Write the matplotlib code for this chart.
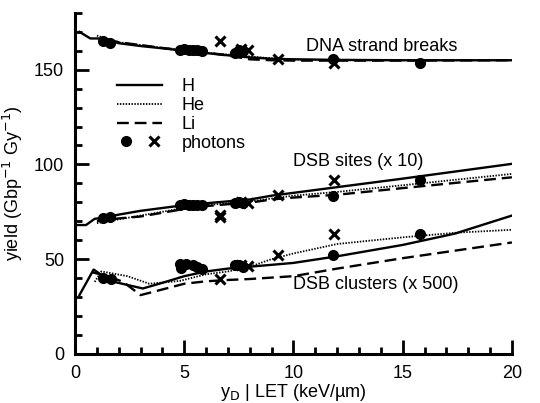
import matplotlib.pyplot as plt
from matplotlib.lines import Line2D
from matplotlib.legend_handler import HandlerTuple
from matplotlib.ticker import MultipleLocator

plt.rcParams['font.family'] = ['Liberation Sans', 'DejaVu Sans']

# DNA strand breaks
ssb_h_x = [0.2, 0.7, 1.2, 2, 3, 4, 5, 6, 7, 7.5, 8, 9, 10, 12, 15, 20]
ssb_h_y = [170, 166.5, 166.5, 164, 162.5, 161.3, 160, 158.8, 157.6, 157.0, 156.5, 155.8, 155.5, 155.2, 155, 155]
ssb_he_x = [1.0, 2, 3, 4, 5, 6, 7, 8, 9, 10, 12, 15, 20]
ssb_he_y = [168, 164.5, 163, 161.5, 160.3, 159, 158, 157, 156, 155.5, 155, 155, 155]
ssb_li_x = [1.5, 2, 3, 4, 5, 6, 7, 7.5, 8, 9, 10, 12, 15, 20]
ssb_li_y = [166, 164.5, 163, 161.5, 160.2, 159, 157.5, 156.5, 155.5, 155.0, 154.8, 154.8, 154.8, 155]
ssb_dot_x = [1.3, 1.6, 4.8, 5.0, 5.2, 5.4, 5.6, 5.8, 7.3, 7.5, 7.7, 11.8, 15.8]
ssb_dot_y = [165, 164.3, 160.5, 160.8, 160.5, 160.3, 160.5, 160, 159, 160.5, 160, 155.8, 153.5]
ssb_x_x = [6.65, 7.6, 7.9, 9.3, 11.85]
ssb_x_y = [165, 161, 160.5, 155.5, 153.5]

# DSB sites (x 10)
site_h_x = [0.1, 0.5, 0.9, 1.3, 2, 3, 4, 5, 6, 7, 8, 9, 10, 12, 15, 20]
site_h_y = [68, 68, 71.3, 71.8, 73.5, 75.5, 77, 78.5, 79.5, 80.5, 81.5, 83.5, 85, 88, 92.5, 100.3]
site_he_x = [1.0, 2, 3, 4, 5, 6, 7, 8, 9, 10, 12, 15, 20]
site_he_y = [69, 71, 73, 75, 77, 78.5, 79.5, 80.5, 82, 83.5, 85.5, 89, 95]
site_li_x = [1.0, 2, 3, 4, 5, 6, 7, 8, 9, 10, 12, 15, 20]
site_li_y = [70, 71.5, 72.5, 74.5, 76.5, 78, 79, 79.8, 81.5, 82.5, 84, 87.5, 93.2]
site_dot_x = [1.3, 1.6, 4.8, 5.0, 5.2, 5.4, 5.6, 5.8, 7.3, 7.5, 7.7, 11.8, 15.8]
site_dot_y = [71.5, 72.5, 78.5, 79, 78.5, 78.8, 78.5, 78.5, 79.5, 80, 79.5, 83.5, 92]
site_x_x = [6.65, 6.65, 7.6, 7.9, 9.3, 11.85]
site_x_y = [72, 73.5, 80, 79.5, 84, 92]

# DSB clusters (x 500)
clus_h_x = [0.2, 0.85, 1.6, 3.1, 4, 5, 6, 7, 8, 10, 12, 15, 17.4, 20]
clus_h_y = [31, 44.5, 38.5, 34.5, 37.5, 41, 43.5, 45, 46, 48, 51.5, 57.5, 63.5, 73]
clus_he_x = [0.9, 1.2, 2.4, 3.4, 4.8, 6, 7, 8, 9, 10, 12, 15, 17.5, 20]
clus_he_y = [38, 43.5, 41, 37, 38.5, 42, 43.5, 46, 50, 53, 58, 61.5, 64, 65.5]
clus_li_x = [0.8, 1.5, 2.2, 3.0, 4, 5, 6, 7, 8, 10, 12, 15, 20]
clus_li_y = [43, 41, 38, 31, 34, 37, 38.3, 39, 39.5, 41, 45, 50.5, 58.8]
clus_dot_x = [1.3, 1.65, 4.8, 4.85, 5.1, 5.4, 5.6, 5.8, 7.3, 7.5, 7.7, 11.8, 15.8]
clus_dot_y = [40, 39.5, 47.5, 45.5, 47.5, 47, 46, 45, 47, 47, 46, 52, 63.5]
clus_x_x = [6.65, 7.6, 7.9, 9.3, 11.85]
clus_x_y = [39.5, 47, 46.5, 52, 63.5]

fig = plt.figure(figsize=(5.4, 4.03), dpi=100)
ax = fig.add_axes([0.139, 0.122, 0.809, 0.846])

lw = 1.7
dash = (0, (5, 2.5))
dot = (0, (0.8, 0.8))
for xs, ys, ls in [(ssb_h_x, ssb_h_y, '-'), (ssb_he_x, ssb_he_y, dot), (ssb_li_x, ssb_li_y, dash),
                   (site_h_x, site_h_y, '-'), (site_he_x, site_he_y, dot), (site_li_x, site_li_y, dash),
                   (clus_h_x, clus_h_y, '-'), (clus_he_x, clus_he_y, dot), (clus_li_x, clus_li_y, dash)]:
    ax.plot(xs, ys, color='black', linestyle=ls, lw=lw if ls != dot else 1.3)

ms = 7
for xs, ys in [(ssb_dot_x, ssb_dot_y), (site_dot_x, site_dot_y), (clus_dot_x, clus_dot_y)]:
    ax.plot(xs, ys, 'o', color='black', ms=ms, ls='none')
for xs, ys in [(ssb_x_x, ssb_x_y), (site_x_x, site_x_y), (clus_x_x, clus_x_y)]:
    ax.plot(xs, ys, 'x', color='black', ms=ms, mew=2.2, ls='none')

fs = 13
ax.text(10.55, 162.5, 'DNA strand breaks', fontsize=fs, va='center')
ax.text(10.0, 101.5, 'DSB sites (x 10)', fontsize=fs, va='center')
ax.text(10.0, 36.5, 'DSB clusters (x 500)', fontsize=fs, va='center')

# legend
h_line = Line2D([], [], color='black', lw=lw)
he_line = Line2D([], [], color='black', lw=1.3, linestyle=dot)
li_line = Line2D([], [], color='black', lw=lw, linestyle=dash)
ph_dot = Line2D([], [], marker='o', color='black', ms=ms, ls='none')
ph_x = Line2D([], [], marker='x', color='black', ms=ms, mew=2.2, ls='none')
ax.legend([h_line, he_line, li_line, (ph_dot, ph_x)], ['H', 'He', 'Li', 'photons'],
          handler_map={tuple: HandlerTuple(ndivide=None, pad=0.6)},
          loc='upper left', bbox_to_anchor=(0.096, 0.808), frameon=False,
          fontsize=fs, handlelength=2.5, handletextpad=1.1, labelspacing=0.1,
          borderaxespad=0, borderpad=0)

ax.set_xlim(0, 20)
ax.set_ylim(0, 180)
ax.xaxis.set_major_locator(MultipleLocator(5))
ax.xaxis.set_minor_locator(MultipleLocator(1))
ax.yaxis.set_major_locator(MultipleLocator(50))
ax.yaxis.set_minor_locator(MultipleLocator(10))
ax.tick_params(which='major', direction='in', length=10, width=2, labelsize=fs, pad=8)
ax.tick_params(which='minor', direction='in', length=5, width=2)
for s in ['top', 'right']:
    ax.spines[s].set_visible(False)
for s in ['left', 'bottom']:
    ax.spines[s].set_linewidth(2.2)

ax.set_xlabel('y$_\\mathrm{D}$ | LET (keV/µm)', fontsize=fs, labelpad=0)
ax.set_ylabel('yield (Gbp$^{-1}$ Gy$^{-1}$)', fontsize=fs, labelpad=6)

fig.savefig('out.png', dpi=100)
